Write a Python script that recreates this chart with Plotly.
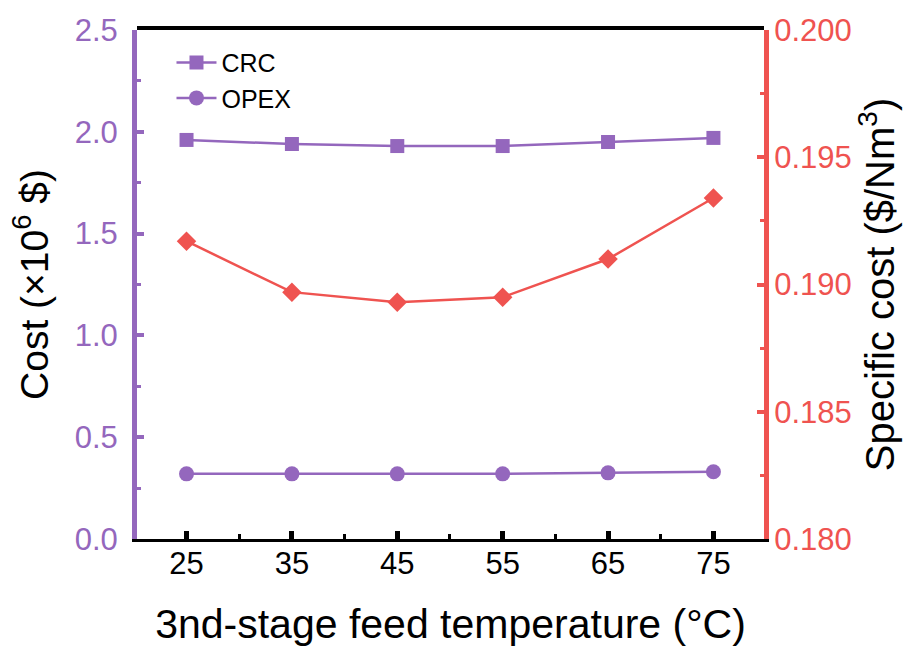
import plotly.graph_objects as go

temps = [25, 35, 45, 55, 65, 75]
crc = [1.96, 1.94, 1.93, 1.93, 1.95, 1.97]
opex = [0.32, 0.32, 0.32, 0.32, 0.325, 0.33]
specific = [0.1917, 0.1897, 0.1893, 0.1895, 0.1910, 0.1934]

purple = "#9467BD"
red = "#EF5350"
font = "Liberation Sans, Arial, sans-serif"

fig = go.Figure()
fig.add_trace(go.Scatter(x=temps, y=crc, name="CRC", mode="lines+markers",
                         line=dict(color=purple, width=2.5),
                         marker=dict(symbol="square", size=14, color=purple)))
fig.add_trace(go.Scatter(x=temps, y=opex, name="OPEX", mode="lines+markers",
                         line=dict(color=purple, width=2.5),
                         marker=dict(symbol="circle", size=15, color=purple)))
fig.add_trace(go.Scatter(x=temps, y=specific, name="Specific cost", mode="lines+markers",
                         yaxis="y2", showlegend=False,
                         line=dict(color=red, width=2.5),
                         marker=dict(symbol="diamond", size=15, color=red)))

# top frame line
fig.add_shape(type="line", xref="paper", yref="paper", x0=0, x1=1, y0=1.004, y1=1.004,
              line=dict(color="#000000", width=4), layer="above")

fig.update_layout(
    width=921, height=652,
    margin=dict(l=137, r=157, t=30, b=111),
    plot_bgcolor="white", paper_bgcolor="white",
    font=dict(family=font, size=30, color="black"),
    showlegend=True,
    legend=dict(x=0.055, y=0.981, xanchor="left", yanchor="top",
                bgcolor="rgba(0,0,0,0)", font=dict(size=25, color="black"),
                itemwidth=40, tracegroupgap=0),
    xaxis=dict(range=[20.3, 79.8], tickvals=temps, ticks="inside", ticklen=8, tickwidth=5,
               tickcolor="#000000", showline=True, linecolor="#000000", linewidth=3,
               showgrid=False, zeroline=False, ticklabelstandoff=-5,
               tickfont=dict(size=31, color="black"),
               minor=dict(dtick=5, tick0=20, ticks="inside", ticklen=5, tickwidth=3, tickcolor="#000000"),
               title=dict(text="3nd-stage feed temperature (°C)", font=dict(size=41, color="black"),
                          standoff=30)),
    yaxis=dict(range=[0, 2.5], dtick=0.5, tickformat=".1f", ticks="inside", ticklen=7, tickwidth=4,
               tickcolor=purple, showline=True, linecolor=purple, linewidth=5,
               showgrid=False, zeroline=False, ticklabelstandoff=8,
               tickfont=dict(size=31, color=purple),
               minor=dict(dtick=0.25, ticks="inside", ticklen=4, tickwidth=3, tickcolor=purple),
               title=dict(text="Cost (×10<sup>6</sup> $)", font=dict(size=39, color="black"),
                          standoff=16)),
    yaxis2=dict(range=[0.180, 0.200], dtick=0.005, tickformat=".3f", overlaying="y", side="right",
                ticks="inside", ticklen=7, tickwidth=4, tickcolor=red,
                showline=True, linecolor=red, linewidth=5, showgrid=False, zeroline=False,
                ticklabelstandoff=-1,
                tickfont=dict(size=31, color=red),
                minor=dict(dtick=0.0025, ticks="inside", ticklen=4, tickwidth=3, tickcolor=red),
                title=dict(text="Specific cost ($/Nm<sup>3</sup>)", font=dict(size=40, color="black"),
                           standoff=10)),
)

fig.write_html("out.html")
